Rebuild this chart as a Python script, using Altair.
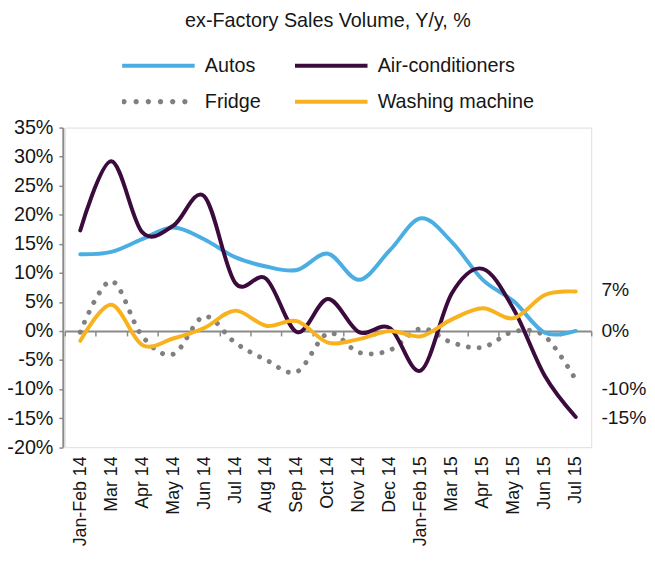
import altair as alt
import pandas as pd

FONT = "Liberation Sans"
TXT = "#161616"
GRAY = "#8a8a8a"

months = ["Jan-Feb 14", "Mar 14", "Apr 14", "May 14", "Jun 14", "Jul 14", "Aug 14",
          "Sep 14", "Oct 14", "Nov 14", "Dec 14", "Jan-Feb 15", "Mar 15", "Apr 15",
          "May 15", "Jun 15", "Jul 15"]

# legend order (filled column by column: Autos/Fridge, then Air-conditioners/Washing machine)
series_order = ["Autos", "Fridge", "Air-conditioners", "Washing machine"]
series_colors = ["#4BAEE3", "#808080", "#3C0B3E", "#F7B21E"]

autos = [13.2, 13.6, 15.8, 17.8, 15.8, 12.7, 11.1, 10.5, 13.3, 8.8, 13.9, 19.4, 15.3, 8.8, 5.1, -0.3, 0.0]
aircon = [17.3, 29.2, 17.0, 18.1, 23.2, 8.3, 9.0, -0.2, 5.5, -0.2, 0.5, -6.8, 6.5, 10.7, 3.7, -7.7, -14.8]
fridge = [-0.2, 8.6, -0.9, -4.0, 2.5, -2.0, -5.0, -7.0, -0.4, -3.7, -3.3, 0.4, -2.0, -2.8, -0.1, -0.9, -8.4]
washing = [-1.7, 4.5, -2.4, -1.3, 0.5, 3.5, 0.9, 1.7, -2.0, -1.4, 0.0, -0.9, 2.0, 3.9, 2.2, 6.2, 6.8]

y_ticks = [-20, -15, -10, -5, 0, 5, 10, 15, 20, 25, 30, 35]
y_domain = [-20, 35]

end_series = ["Washing machine", "Autos", "Fridge", "Air-conditioners"]
end_values = [7, 0, -10, -15]
end_labels = ["7%", "0%", "-10%", "-15%"]

rows = []
for name, vals in [("Autos", autos), ("Air-conditioners", aircon),
                   ("Fridge", fridge), ("Washing machine", washing)]:
    for m, v in zip(months, vals):
        rows.append({"month": m, "series": name, "value": v})
df = pd.DataFrame(rows)

ann_df = pd.DataFrame({"month": [months[-1]] * len(end_values),
                       "series": end_series, "value": end_values, "label": end_labels})
legend_df = pd.DataFrame({"series": series_order})

W, H = 533, 323.6
zero_offset = -H * (0 - y_domain[0]) / (y_domain[1] - y_domain[0])

x_scale = alt.Scale(type="band", domain=months, paddingInner=0, paddingOuter=0)
x_enc = alt.X("month:N", sort=months, scale=x_scale,
              axis=alt.Axis(title=None, orient="bottom", offset=zero_offset,
                            domainColor=GRAY, domainWidth=2, tickColor=GRAY, tickWidth=1.5,
                            tickSize=5, tickBand="extent", labelAngle=270, labelAlign="right",
                            labelBaseline="middle", labelPadding=121.5, labelFont=FONT,
                            labelFontSize=18, labelColor=TXT, labelOverlap=False,
                            labelBound=False, grid=False))
y_enc = alt.Y("value:Q", scale=alt.Scale(domain=y_domain, nice=False, zero=False),
              axis=alt.Axis(title=None, values=y_ticks, labelExpr="datum.value + '%'",
                            offset=2, tickSize=4, domainColor=GRAY, domainWidth=2,
                            tickColor=GRAY, tickWidth=1.5, labelPadding=6, labelFont=FONT,
                            labelFontSize=20, labelColor=TXT, labelOverlap=False,
                            labelBound=False, grid=False))

# line colours (domain listed in drawing order so it is kept apart from the legend scales)
line_order = ["Fridge", "Autos", "Air-conditioners", "Washing machine"]
line_colors = [series_colors[series_order.index(s)] for s in line_order]
color_scale = alt.Scale(domain=line_order, range=line_colors)

fridge_line = alt.Chart(df).transform_filter("datum.series == 'Fridge'").mark_line(
    strokeWidth=5, interpolate="cardinal", strokeCap="round", strokeDash=[0.01, 11]
).encode(x=x_enc, y=y_enc, color=alt.Color("series:N", scale=color_scale, legend=None))

solid_lines = alt.Chart(df).transform_filter("datum.series != 'Fridge'").mark_line(
    strokeWidth=4, interpolate="cardinal", strokeCap="round"
).encode(x=x_enc, y=y_enc, color=alt.Color("series:N", scale=color_scale, legend=None))

ann = alt.Chart(ann_df).mark_text(align="left", baseline="middle", dx=26, font=FONT,
                                  fontSize=19.5, color=TXT).encode(
    x=x_enc, y=y_enc, text="label:N")

# legend symbols: line bars and a row of dots
bar = "M-1,-0.0545L1,-0.0545L1,0.0545L-1,0.0545Z"
r = 0.073
dots = "".join(f"M{cx - r:.3f},0a{r},{r} 0 1,0 {2 * r:.3f},0a{r},{r} 0 1,0 {-2 * r:.3f},0"
               for cx in [-0.95, -0.614, -0.278, 0.058, 0.394, 0.73])
shape_paths = [bar if s != "Fridge" else dots for s in series_order]

leg_kw = dict(title=None, orient="none", legendX=57.8, legendY=-72.7, columns=2,
              symbolSize=5388, clipHeight=20, rowPadding=16.5, columnPadding=34,
              labelOffset=10, labelFont=FONT, labelFontSize=20, labelColor=TXT,
              symbolStrokeWidth=0, symbolOpacity=1, labelLimit=400, symbolOffset=0)

legend_layer = alt.Chart(legend_df).mark_point(
    filled=True, strokeWidth=0, opacity=0).encode(
    fill=alt.Fill("series:N", scale=alt.Scale(domain=series_order, range=series_colors),
                  legend=alt.Legend(**leg_kw)),
    shape=alt.Shape("series:N", scale=alt.Scale(domain=series_order, range=shape_paths),
                    legend=alt.Legend(**leg_kw)))

chart = alt.layer(fridge_line, solid_lines, ann, legend_layer).properties(
    width=W, height=H,
    title=alt.TitleParams("ex-Factory Sales Volume, Y/y, %", font=FONT, fontSize=20,
                          fontWeight="normal", color=TXT, anchor="middle", frame="group",
                          dy=-21),
    padding={"left": 57.5, "top": 117.7, "right": 56.5, "bottom": 100},
    autosize=alt.AutoSizeParams(type="none"),
).configure_view(stroke=None).configure(background="white")

chart.save("out.html", embed_options={"renderer": "svg", "actions": False})
